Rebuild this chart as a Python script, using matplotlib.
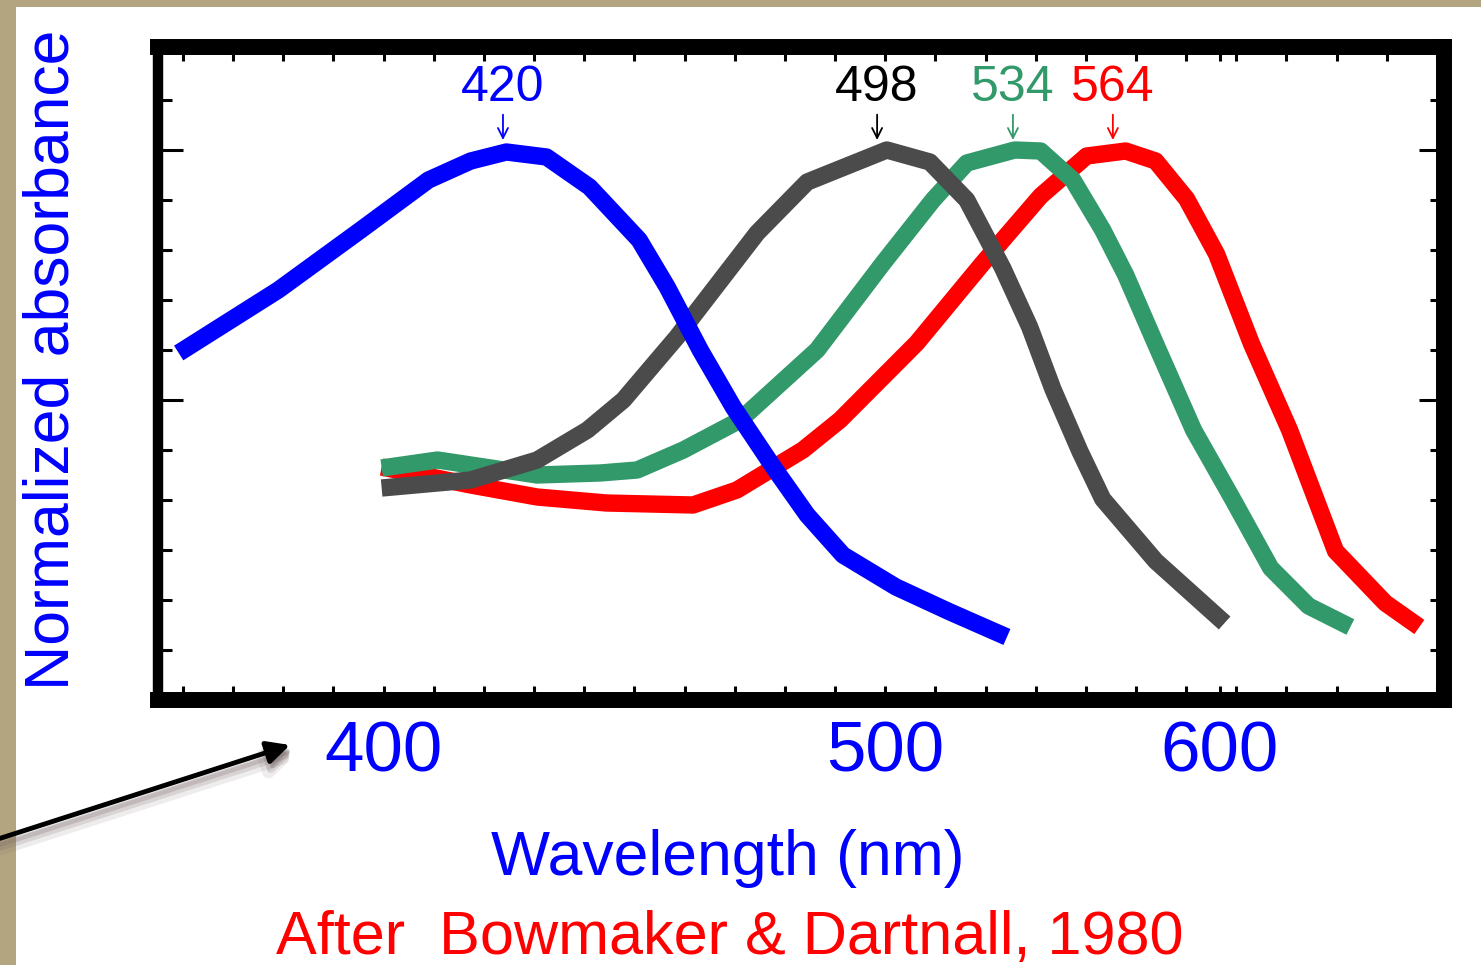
import matplotlib
matplotlib.use('Agg')
import matplotlib.pyplot as plt
import numpy as np
from matplotlib.ticker import FixedLocator, MultipleLocator, NullFormatter
from matplotlib.patches import Rectangle

plt.rcParams['font.family'] = ['Liberation Sans', 'DejaVu Sans']

# ---------------- data ----------------
blue_wl = [369.8, 383.9, 396.4, 407.3, 414.4, 420.6, 427.8, 435.8, 445.4, 451.0,
           457.8, 464.8, 473.6, 481.3, 489.7, 502.7, 516.7, 532.3]
blue_abs = [0.594, 0.72, 0.84, 0.94, 0.978, 0.996, 0.986, 0.926, 0.82, 0.726,
            0.60, 0.486, 0.366, 0.27, 0.19, 0.126, 0.076, 0.026]

gray_wl = [399.7, 414.4, 426.1, 435.4, 442.3, 453.0, 470.0, 481.3, 500.4, 511.4,
           521.2, 531.1, 538.8, 545.6, 553.7, 560.8, 577.9, 601.8]
gray_abs = [0.324, 0.34, 0.38, 0.44, 0.50, 0.626, 0.834, 0.936, 1.0, 0.976,
            0.90, 0.764, 0.646, 0.522, 0.398, 0.302, 0.178, 0.054]

green_wl = [399.7, 408.8, 414.4, 426.1, 437.8, 445.0, 454.3, 466.3, 483.6, 499.5,
            512.2, 521.2, 534.5, 542.0, 551.6, 560.8, 568.1, 577.9, 590.8, 604.7,
            618.9, 633.7, 650.9]
green_abs = [0.364, 0.38, 0.37, 0.35, 0.354, 0.36, 0.40, 0.46, 0.60, 0.774,
             0.90, 0.974, 1.0, 0.998, 0.94, 0.84, 0.75, 0.612, 0.44, 0.302,
             0.164, 0.088, 0.046]

red_wl = [399.7, 414.4, 426.1, 439.0, 456.3, 465.6, 480.3, 489.0, 508.0, 525.6,
          542.0, 555.8, 568.1, 577.9, 588.4, 598.9, 611.7, 626.2, 644.7, 666.0, 681.4]
red_abs = [0.366, 0.33, 0.306, 0.294, 0.29, 0.32, 0.40, 0.46, 0.614, 0.774,
           0.908, 0.988, 0.998, 0.978, 0.902, 0.792, 0.612, 0.44, 0.198, 0.094, 0.046]

peak_labels = ['420', '498', '534', '564']
peak_wl = [420, 498, 534, 564]
xtick_wl = [400, 500, 600]
xtick_labels = ['400', '500', '600']

BLUE = '#0000ff'
GRAY = '#4b4b4b'
GREEN = '#32996a'
RED = '#ff0000'

# ---------------- figure ----------------
W, H = 1481, 965
fig = plt.figure(figsize=(W / 100, H / 100), dpi=100)
fig.patch.set_facecolor('#b3a57f')
fig.add_artist(Rectangle((16 / W, 0), 1, 1 - 7 / H, transform=fig.transFigure,
                         facecolor='white', edgecolor='none', zorder=0))

l, r, t, b = 158, 1444, 47, 700
ax = fig.add_axes([l / W, (H - b) / H, (r - l) / W, (b - t) / H])
ax.set_facecolor('white')

ax.set_xscale('function', functions=(lambda x: -1.0 / np.asarray(x, dtype=float),
                                     lambda y: -1.0 / np.asarray(y, dtype=float)))
ax.set_xlim(367, 693)
ax.set_ylim(-0.1, 1.206)

lw = 12.5
kw = dict(lw=lw, solid_capstyle='butt', solid_joinstyle='round')
ax.plot(red_wl, red_abs, color=RED, zorder=2, **kw)
ax.plot(green_wl, green_abs, color=GREEN, zorder=3, **kw)
ax.plot(gray_wl, gray_abs, color=GRAY, zorder=4, **kw)
ax.plot(blue_wl, blue_abs, color=BLUE, zorder=5, **kw)

for lbl, wl, col in zip(peak_labels, peak_wl, [BLUE, 'black', GREEN, RED]):
    ax.annotate(lbl, xy=(wl, 1.02), xytext=(wl, 1.125), ha='center', va='center',
                fontsize=36, color=col, zorder=6,
                arrowprops=dict(arrowstyle='->', color=col, lw=1.3,
                                shrinkA=1, shrinkB=0, mutation_scale=18))

# spines
for side in ['top', 'right', 'bottom']:
    ax.spines[side].set_linewidth(11.5)
ax.spines['left'].set_linewidth(7.5)
for s in ax.spines.values():
    s.set_color('black')
    s.set_zorder(7)

# ticks
ax.xaxis.set_major_locator(FixedLocator(xtick_wl))
ax.set_xticklabels(xtick_labels)
minor_x = [1e7 / k for k in range(14500, 27501, 500)]
ax.xaxis.set_minor_locator(FixedLocator(minor_x))
ax.xaxis.set_minor_formatter(NullFormatter())
ax.yaxis.set_major_locator(FixedLocator([0.5, 1.0]))
ax.yaxis.set_minor_locator(MultipleLocator(0.1))
ax.tick_params(axis='both', which='both', direction='in', top=True, right=True,
               width=2.2, color='black')
ax.tick_params(axis='y', which='major', length=18, labelleft=False)
ax.tick_params(axis='y', which='minor', length=10)
ax.tick_params(axis='x', which='both', length=10)
ax.tick_params(axis='x', which='major', labelsize=51, labelcolor=BLUE, pad=15)

ax.set_xlabel('Wavelength (nm)', fontsize=45, color=BLUE, va='center', ha='center')
ax.xaxis.set_label_coords((728 - l) / (r - l), (b - 859) / (b - t))
ax.set_ylabel('Normalized absorbance', fontsize=45, color=BLUE, va='center', ha='center')
ax.yaxis.set_label_coords((52 - l) / (r - l), (b - 360) / (b - t))

fig.text(730 / W, 1 - 939 / H, 'After  Bowmaker & Dartnall, 1980', fontsize=44,
         color=RED, ha='center', va='center')

# pointer arrow with soft shadow
for dx, dy, w, a in [(6, 9, 9, 0.12), (4, 7, 6, 0.18), (3, 5, 4, 0.25)]:
    ax.annotate('', xy=(290 + dx, H - 745 - dy), xycoords='figure pixels',
                xytext=(-5 + dx, H - 840 - dy), textcoords='figure pixels',
                arrowprops=dict(arrowstyle='-|>', lw=w, color='#7a6a6a', alpha=a,
                                mutation_scale=32, shrinkA=0, shrinkB=0),
                annotation_clip=False)
ax.annotate('', xy=(290, H - 745), xycoords='figure pixels',
            xytext=(-5, H - 840), textcoords='figure pixels',
            arrowprops=dict(arrowstyle='-|>', lw=3.5, color='black',
                            mutation_scale=34, shrinkA=0, shrinkB=0),
            annotation_clip=False)

fig.savefig('out.png', dpi=100, facecolor=fig.get_facecolor())
